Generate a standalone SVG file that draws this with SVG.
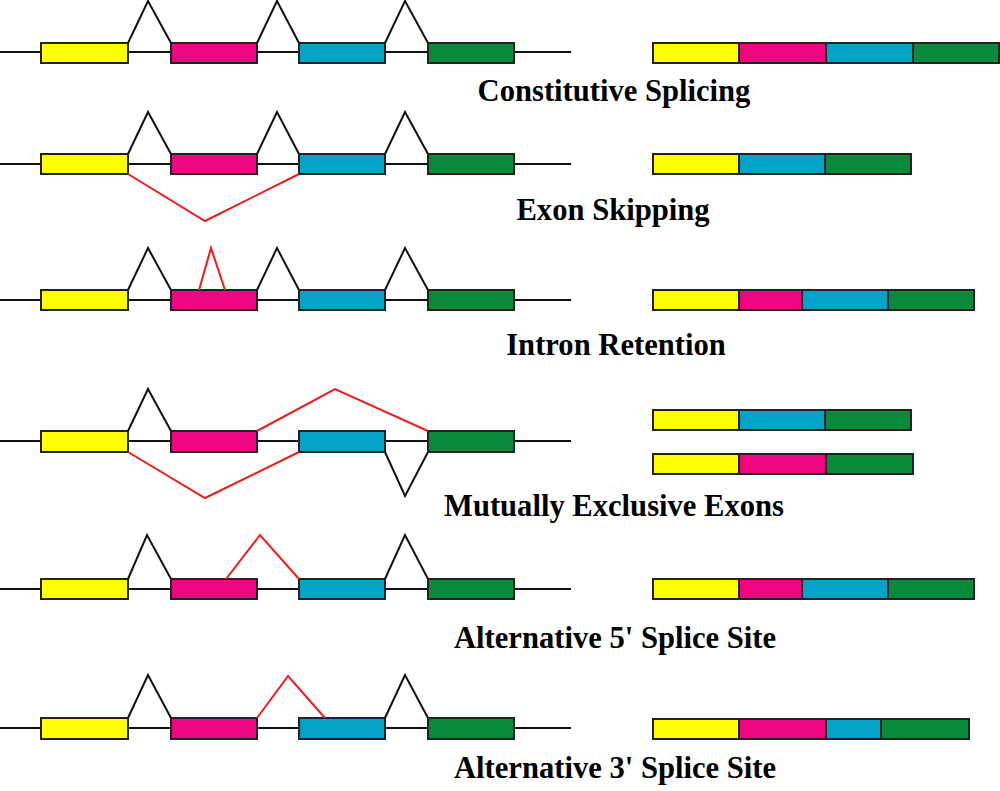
<svg xmlns="http://www.w3.org/2000/svg" width="1000" height="791" viewBox="0 0 1000 791">
<style>
.bg{fill:#ffffff}
.ln{stroke:#111;stroke-width:2;fill:none}
.rd{stroke:#ee1c1c;stroke-width:2;fill:none}
.ex{stroke:#222;stroke-width:2}
.y{fill:#ffff00}
.p{fill:#ee0580}
.b{fill:#03a3c9}
.g{fill:#088a3b}
.t{font-family:"Liberation Serif","Times New Roman",serif;font-weight:bold;font-size:30.6px;fill:#000;text-anchor:middle}
</style>
<rect class="bg" x="0" y="0" width="1000" height="791"/>

<!-- Row 1: Constitutive Splicing -->
<g id="constitutive">
  <line class="ln" x1="0" y1="52" x2="571" y2="52"/>
  <g id="c-exons">
    <rect class="ex y" x="41" y="43" width="87" height="20"/>
    <rect class="ex p" x="171" y="43" width="86" height="20"/>
    <rect class="ex b" x="299" y="43" width="86" height="20"/>
    <rect class="ex g" x="428" y="43" width="86" height="20"/>
  </g>
  <g id="c-mrna">
    <rect class="ex y" x="653" y="43" width="86" height="20"/>
    <rect class="ex p" x="739" y="43" width="87" height="20"/>
    <rect class="ex b" x="826" y="43" width="87" height="20"/>
    <rect class="ex g" x="913" y="43" width="86" height="20"/>
  </g>
  <text class="t" x="614" y="101">Constitutive Splicing</text>
</g>

<!-- Row 2: Exon Skipping -->
<g id="exon-skipping">
  <line class="ln" x1="0" y1="164" x2="571" y2="164"/>
  <g id="s-exons">
    <rect class="ex y" x="41" y="154" width="87" height="20"/>
    <rect class="ex p" x="171" y="154" width="86" height="20"/>
    <rect class="ex b" x="299" y="154" width="86" height="20"/>
    <rect class="ex g" x="428" y="154" width="86" height="20"/>
  </g>
  <g id="s-mrna">
    <rect class="ex y" x="653" y="154" width="86" height="20"/>
    <rect class="ex b" x="739" y="154" width="86" height="20"/>
    <rect class="ex g" x="825" y="154" width="86" height="20"/>
  </g>
  <text class="t" x="613" y="220">Exon Skipping</text>
</g>

<!-- Row 3: Intron Retention -->
<g id="intron-retention">
  <line class="ln" x1="0" y1="300" x2="571" y2="300"/>
  <g id="r-exons">
    <rect class="ex y" x="41" y="290" width="87" height="20"/>
    <rect class="ex p" x="171" y="290" width="86" height="20"/>
    <rect class="ex b" x="299" y="290" width="86" height="20"/>
    <rect class="ex g" x="428" y="290" width="86" height="20"/>
  </g>
  <g id="r-mrna">
    <rect class="ex y" x="653" y="290" width="86" height="20"/>
    <rect class="ex p" x="739" y="290" width="63" height="20"/>
    <rect class="ex b" x="802" y="290" width="86" height="20"/>
    <rect class="ex g" x="888" y="290" width="86" height="20"/>
  </g>
  <text class="t" x="616" y="355">Intron Retention</text>
</g>

<!-- Row 4: Mutually Exclusive Exons -->
<g id="mutually-exclusive">
  <line class="ln" x1="0" y1="441" x2="571" y2="441"/>
  <g id="m-exons">
    <rect class="ex y" x="41" y="431" width="87" height="21"/>
    <rect class="ex p" x="171" y="431" width="86" height="21"/>
    <rect class="ex b" x="299" y="431" width="86" height="21"/>
    <rect class="ex g" x="428" y="431" width="86" height="21"/>
  </g>
  <g id="m-mrna1">
    <rect class="ex y" x="653" y="410" width="86" height="20"/>
    <rect class="ex b" x="739" y="410" width="86" height="20"/>
    <rect class="ex g" x="825" y="410" width="86" height="20"/>
  </g>
  <g id="m-mrna2">
    <rect class="ex y" x="653" y="454" width="86" height="20"/>
    <rect class="ex p" x="739" y="454" width="87" height="20"/>
    <rect class="ex g" x="826" y="454" width="87" height="20"/>
  </g>
  <text class="t" x="614" y="516">Mutually Exclusive Exons</text>
</g>

<!-- Row 5: Alternative 5' Splice Site -->
<g id="alt-5">
  <line class="ln" x1="0" y1="589" x2="571" y2="589"/>
  <g id="f-exons">
    <rect class="ex y" x="41" y="579" width="87" height="20"/>
    <rect class="ex p" x="171" y="579" width="86" height="20"/>
    <rect class="ex b" x="299" y="579" width="86" height="20"/>
    <rect class="ex g" x="428" y="579" width="86" height="20"/>
  </g>
  <g id="f-mrna">
    <rect class="ex y" x="653" y="579" width="86" height="20"/>
    <rect class="ex p" x="739" y="579" width="63" height="20"/>
    <rect class="ex b" x="802" y="579" width="86" height="20"/>
    <rect class="ex g" x="888" y="579" width="86" height="20"/>
  </g>
  <text class="t" x="615" y="648">Alternative 5' Splice Site</text>
</g>

<!-- Row 6: Alternative 3' Splice Site -->
<g id="alt-3">
  <line class="ln" x1="0" y1="728" x2="571" y2="728"/>
  <g id="t-exons">
    <rect class="ex y" x="41" y="718" width="87" height="21"/>
    <rect class="ex p" x="171" y="718" width="86" height="21"/>
    <rect class="ex b" x="299" y="718" width="86" height="21"/>
    <rect class="ex g" x="428" y="718" width="86" height="21"/>
  </g>
  <g id="t-mrna">
    <rect class="ex y" x="653" y="719" width="86" height="20"/>
    <rect class="ex p" x="739" y="719" width="87" height="20"/>
    <rect class="ex b" x="826" y="719" width="55" height="20"/>
    <rect class="ex g" x="881" y="719" width="88" height="20"/>
  </g>
  <text class="t" x="615" y="778">Alternative 3' Splice Site</text>
</g>

<!-- Connectors: splice junctions -->
<g id="connectors">
  <!-- row 1 -->
  <polyline class="ln" points="128,43 148,1 171,43"/>
  <polyline class="ln" points="257,43 277,1 299,43"/>
  <polyline class="ln" points="385,43 405,1 428,43"/>
  <!-- row 2 -->
  <polyline class="ln" points="128,154 148,112 171,154"/>
  <polyline class="ln" points="257,154 277,112 299,154"/>
  <polyline class="ln" points="385,154 405,112 428,154"/>
  <polyline class="rd" points="128,174 205,221 299,174"/>
  <!-- row 3 -->
  <polyline class="ln" points="128,290 148,248 171,290"/>
  <polyline class="ln" points="257,290 277,248 299,290"/>
  <polyline class="ln" points="385,290 405,248 428,290"/>
  <polyline class="rd" points="199,290 211,248 225,290"/>
  <!-- row 4 -->
  <polyline class="ln" points="128,431 148,389 171,431"/>
  <polyline class="rd" points="257,431 335,389 428,431"/>
  <polyline class="rd" points="128,452 205,498 299,452"/>
  <polyline class="ln" points="385,452 405,496 428,452"/>
  <!-- row 5 -->
  <polyline class="ln" points="128,579 147,535 171,579"/>
  <polyline class="rd" points="226,579 260,535 299,579"/>
  <polyline class="ln" points="385,579 405,535 428,579"/>
  <!-- row 6 -->
  <polyline class="ln" points="128,718 148,675 171,718"/>
  <polyline class="rd" points="257,718 288,676 325,718"/>
  <polyline class="ln" points="385,718 405,675 428,718"/>
</g>
</svg>
